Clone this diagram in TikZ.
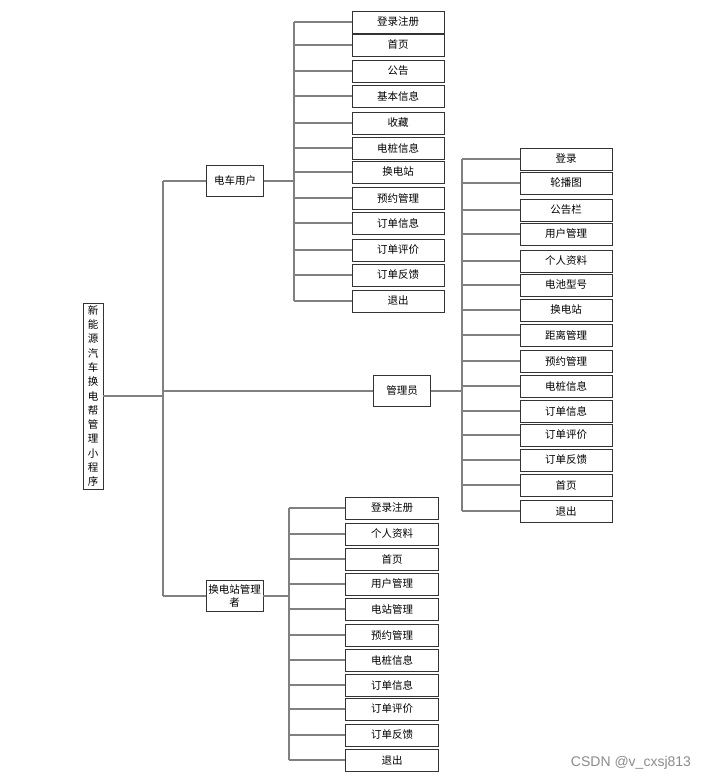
\documentclass[tikz,border=0pt]{standalone}
\usepackage{fontspec}
\newfontfamily\cjk{Noto Sans CJK SC}
\newfontfamily\wmfont{Liberation Sans}
\begin{document}
\begin{tikzpicture}[x=1pt,y=-1pt,
  box/.style={draw=black!80,line width=0.9pt,minimum height=22pt,minimum width=92pt,inner sep=0pt,font=\cjk\fontsize{10.5}{12}\selectfont},
  mid/.style={draw=black!80,line width=0.9pt,minimum height=31pt,minimum width=57pt,inner sep=0pt,align=center,font=\cjk\fontsize{10.5}{13}\selectfont},
  rootbox/.style={draw=black!80,line width=0.9pt,minimum height=186pt,minimum width=20pt,inner sep=0pt,align=center,font=\cjk\fontsize{10.5}{14.3}\selectfont},
  link/.style={draw=black!50,line width=1.1pt}]
\useasboundingbox (0,0) rectangle (707,781);
\fill[white] (0,0) rectangle (707,781);

% root
\node[rootbox] (root) at (93,396) {新\\能\\源\\汽\\车\\换\\电\\帮\\管\\理\\小\\程\\序};
\coordinate (trunk) at (163,0);

% middle nodes
\node[mid] (user) at (235,181) {电车用户};
\node[mid] (admin) at (402,391) {管理员};
\node[mid] (station) at (234.5,596) {换电站管理\\者};

% bars
\coordinate (barA) at (294,0);
\coordinate (barB) at (462,0);
\coordinate (barC) at (289,0);

% group A
\foreach \y/\t [count=\i] in {22/登录注册,45/首页,71/公告,96/基本信息,123/收藏,148/电桩信息,172/换电站,198/预约管理,223/订单信息,250/订单评价,275/订单反馈,301/退出}
  \node[box] (a\i) at (398,\y) {\t};
% group B
\foreach \y/\t [count=\i] in {159/登录,183/轮播图,210/公告栏,234/用户管理,261/个人资料,285/电池型号,310/换电站,335/距离管理,361/预约管理,386/电桩信息,411/订单信息,435/订单评价,460/订单反馈,485/首页,511/退出}
  \node[box] (b\i) at (566,\y) {\t};
% group C
\foreach \y/\t [count=\i] in {508/登录注册,534/个人资料,559/首页,584/用户管理,609/电站管理,635/预约管理,660/电桩信息,685/订单信息,709/订单评价,735/订单反馈,760/退出}
  \node[box,minimum width=93pt] (c\i) at (392,\y) {\t};

% trunk and links from root
\draw[link] (user.west -| trunk) -- (station.west -| trunk);
\draw[link] (root.east) -- (root.east -| trunk);
\draw[link] (user.west) -- (user.west -| trunk);
\draw[link] (admin.west) -- (admin.west -| trunk);
\draw[link] (station.west) -- (station.west -| trunk);

% group connectors
\draw[link] (a1.west -| barA) -- (a12.west -| barA);
\draw[link] (user.east) -- (user.east -| barA);
\foreach \i in {1,...,12} \draw[link] (a\i.west) -- (a\i.west -| barA);

\draw[link] (b1.west -| barB) -- (b15.west -| barB);
\draw[link] (admin.east) -- (admin.east -| barB);
\foreach \i in {1,...,15} \draw[link] (b\i.west) -- (b\i.west -| barB);

\draw[link] (c1.west -| barC) -- (c11.west -| barC);
\draw[link] (station.east) -- (station.east -| barC);
\foreach \i in {1,...,11} \draw[link] (c\i.west) -- (c\i.west -| barC);

% watermark
\node[text=black!45,font=\wmfont\fontsize{14}{16}\selectfont] (wm) at (631,763) {CSDN @v\_cxsj813};
\end{tikzpicture}
\end{document}
